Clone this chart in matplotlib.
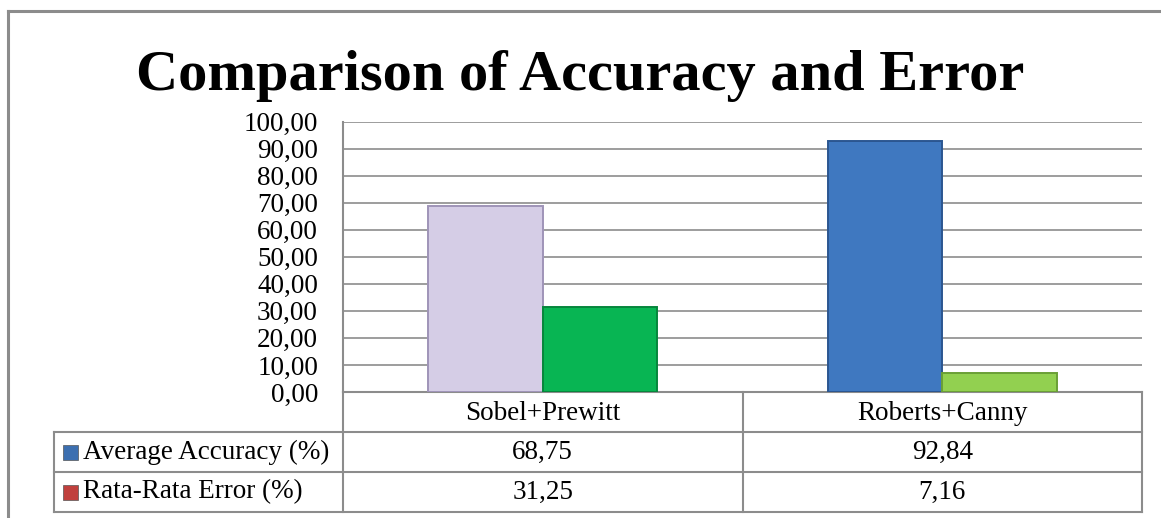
import matplotlib.pyplot as plt
from matplotlib.lines import Line2D
from matplotlib.patches import Rectangle
from matplotlib.transforms import blended_transform_factory

categories = ["Sobel+Prewitt", "Roberts+Canny"]
accuracy = [68.75, 92.84]
error = [31.25, 7.16]
series_names = ["Average Accuracy (%)", "Rata-Rata Error (%)"]
yticks = [0, 10, 20, 30, 40, 50, 60, 70, 80, 90, 100]

acc_colors = ["#D5CDE6", "#3F78C0"]
err_colors = ["#08B553", "#92D050"]
legend_colors = ["#3C6FB0", "#C0403D"]
grid_c = "#8C8C8C"

plt.rcParams['font.family'] = ['Liberation Serif', 'DejaVu Serif']
FS = 19.5

W, H = 1161, 518
fig = plt.figure(figsize=(W / 100, H / 100), dpi=100)

# plot area in pixels: left 343, right 1142, top 121.5, bottom 392
L, R, T, B = 343, 1142, 121.5, 392
ax = fig.add_axes([L / W, 1 - B / H, (R - L) / W, (B - T) / H])

x = range(len(categories))
centers = [i + 0.5 for i in x]
bw = 0.287
ax.bar([c - bw / 2 for c in centers], accuracy, bw, color=acc_colors,
       edgecolor=["#9F94B8", "#2B5690"], linewidth=1.4, zorder=3)
ax.bar([c + bw / 2 for c in centers], error, bw, color=err_colors,
       edgecolor=["#06863C", "#6A9F36"], linewidth=1.4, zorder=3)

ax.set_xlim(0, len(categories))
ax.set_ylim(0, 100)
ax.set_yticks(yticks)
ax.set_yticklabels([f"{v:.2f}".replace(".", ",") for v in yticks], fontsize=FS)
ax.set_xticks([])
ax.tick_params(axis='y', length=0, pad=18)
ax.grid(axis='y', color=grid_c, linewidth=1.2, zorder=0)
for s in ["top", "right"]:
    ax.spines[s].set_visible(False)
ax.spines["left"].set_color(grid_c)
ax.spines["left"].set_linewidth(1.5)
ax.spines["bottom"].set_color(grid_c)
ax.spines["bottom"].set_linewidth(1.5)

# data table under the axis
ph = B - T
def ay(py):
    return (B - py) / ph

tr = blended_transform_factory(ax.transData, ax.transAxes)
tra = ax.transAxes
rows = [432, 472, 512]
x_tab = (54 - L) / (R - L)
lk = dict(color=grid_c, linewidth=1.5, clip_on=False)
for py in rows:
    ax.add_line(Line2D([x_tab, 1], [ay(py)] * 2, transform=tra, **lk))
for xb in range(len(categories) + 1):
    ax.add_line(Line2D([xb, xb], [0, ay(rows[-1])], transform=tr, **lk))
ax.add_line(Line2D([x_tab, x_tab], [ay(rows[0]), ay(rows[-1])], transform=tra, **lk))

for c, name in zip(centers, categories):
    ax.text(c, ay((B + rows[0]) / 2 + 2), name, transform=tr, ha='center', va='center', fontsize=FS)
row_vals = [accuracy, error]
for r, (name, vals, lc) in enumerate(zip(series_names, row_vals, legend_colors)):
    yc = ay((rows[r] + rows[r + 1]) / 2)
    for c, v in zip(centers, vals):
        ax.text(c, yc, f"{v:.2f}".replace(".", ","), transform=tr, ha='center', va='center', fontsize=FS)
    ax.add_patch(Rectangle(((63 - L) / (R - L), yc - 7.5 / ph), 15 / (R - L), 15 / ph,
                           transform=tra, facecolor=lc, edgecolor="#555555", linewidth=0.5, clip_on=False))
    ax.text((83 - L) / (R - L), yc, name, transform=tra, ha='left', va='center', fontsize=FS)

# title and outer frame
fig.text(580 / W, 1 - 76 / H, "Comparison of Accuracy and Error", ha='center', va='center',
         fontsize=42, fontweight='bold')
fk = dict(color=grid_c, linewidth=2.2, transform=fig.transFigure)
fig.add_artist(Line2D([8 / W, 1], [1 - 11 / H] * 2, **fk))
fig.add_artist(Line2D([8 / W, 8 / W], [0, 1 - 11 / H], **fk))

fig.savefig("out.png", dpi=100, facecolor="white")
